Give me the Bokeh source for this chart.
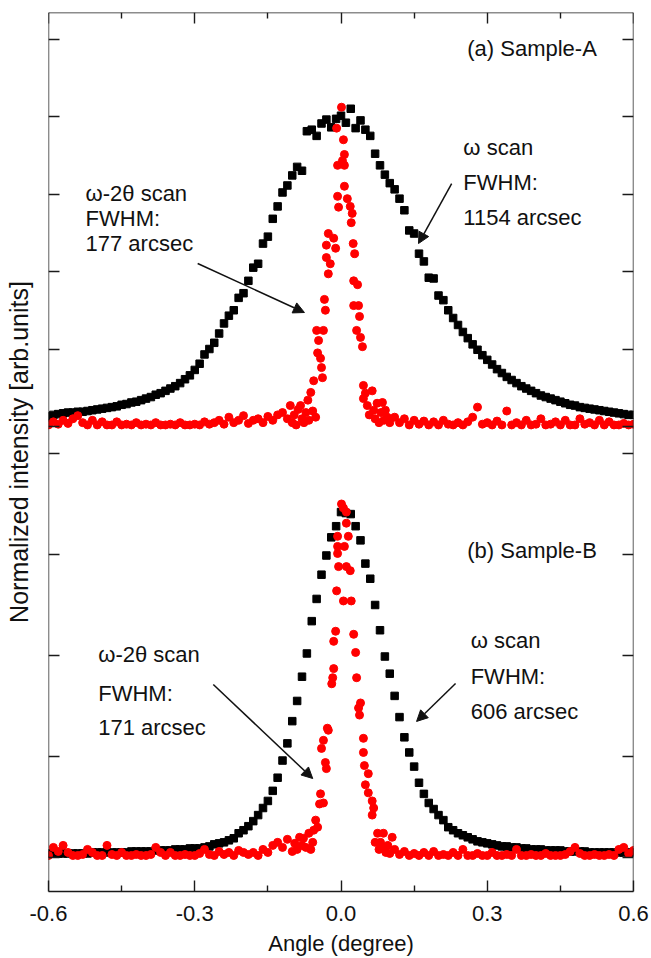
from bokeh.plotting import figure
from bokeh.models import Range1d, LinearAxis, FixedTicker, Label, Arrow, NormalHead
from bokeh.embed import file_html
from bokeh.resources import INLINE

FONT = "Liberation Sans"

# ---------------- data: panel (a) Sample-A ----------------
a_omega_angle = [
    -0.60, -0.59, -0.58, -0.57, -0.56, -0.55, -0.54, -0.53, -0.52, -0.51,
    -0.50, -0.49, -0.48, -0.47, -0.46, -0.45, -0.44, -0.43, -0.42, -0.41,
    -0.40, -0.39, -0.38, -0.37, -0.36, -0.35, -0.34, -0.33, -0.32, -0.31,
    -0.30, -0.29, -0.28, -0.27, -0.26, -0.25, -0.24, -0.23, -0.22, -0.21,
    -0.20, -0.19, -0.18, -0.17, -0.16, -0.15, -0.14, -0.13, -0.12, -0.11,
    -0.10, -0.09, -0.08, -0.07, -0.06, -0.05, -0.04, -0.03, -0.02, -0.01,
    0.00, 0.01, 0.02, 0.03, 0.04, 0.05, 0.06, 0.07, 0.08, 0.09,
    0.10, 0.11, 0.12, 0.13, 0.14, 0.15, 0.16, 0.17, 0.18, 0.19,
    0.20, 0.21, 0.22, 0.23, 0.24, 0.25, 0.26, 0.27, 0.28, 0.29,
    0.30, 0.31, 0.32, 0.33, 0.34, 0.35, 0.36, 0.37, 0.38, 0.39,
    0.40, 0.41, 0.42, 0.43, 0.44, 0.45, 0.46, 0.47, 0.48, 0.49,
    0.50, 0.51, 0.52, 0.53, 0.54, 0.55, 0.56, 0.57, 0.58, 0.59, 0.60]
a_omega_int = [
    0.13, 0.15, 0.16, 0.17, 0.18, 0.18, 0.19, 0.19, 0.20, 0.21,
    0.22, 0.23, 0.24, 0.25, 0.26, 0.28, 0.29, 0.31, 0.32, 0.34,
    0.36, 0.38, 0.41, 0.43, 0.46, 0.49, 0.52, 0.56, 0.61, 0.66,
    0.73, 0.81, 0.93, 1.00, 1.08, 1.20, 1.33, 1.43, 1.50, 1.66,
    1.72, 1.88, 2.05, 2.10, 2.36, 2.45, 2.68, 2.84, 3.02, 3.11,
    3.24, 3.35, 3.30, 3.81, 3.83, 3.75, 3.91, 3.96, 3.86, 3.97,
    4.01, 3.92, 4.10, 3.85, 3.95, 3.83, 3.75, 3.52, 3.37, 3.25,
    3.14, 3.06, 2.94, 2.79, 2.53, 2.49, 2.23, 2.13, 1.92, 1.91,
    1.69, 1.63, 1.50, 1.40, 1.31, 1.22, 1.14, 1.06, 0.99, 0.92,
    0.86, 0.80, 0.74, 0.69, 0.64, 0.60, 0.56, 0.52, 0.49, 0.46,
    0.43, 0.40, 0.38, 0.36, 0.34, 0.32, 0.30, 0.28, 0.27, 0.25,
    0.24, 0.23, 0.22, 0.21, 0.20, 0.19, 0.18, 0.17, 0.16, 0.15, 0.15]

a_w2t_angle = [
    -0.60, -0.59, -0.58, -0.57, -0.56, -0.55, -0.54, -0.53, -0.52, -0.51,
    -0.50, -0.49, -0.48, -0.47, -0.46, -0.45, -0.44, -0.43, -0.42, -0.41,
    -0.40, -0.39, -0.38, -0.37, -0.36, -0.35, -0.34, -0.33, -0.32, -0.31,
    -0.30, -0.29, -0.28, -0.27, -0.26, -0.25, -0.24, -0.23, -0.22, -0.21,
    -0.20, -0.19, -0.18, -0.17, -0.16, -0.15, -0.14, -0.13, -0.12, -0.11,
    -0.104, -0.100, -0.096, -0.092, -0.088, -0.083, -0.080, -0.076, -0.072, -0.068,
    -0.066, -0.062, -0.058, -0.056, -0.052, -0.050, -0.048, -0.046, -0.042, -0.040,
    -0.038, -0.036, -0.034, -0.032, -0.030, -0.030, -0.026, -0.026, -0.022, -0.015,
    -0.011, -0.009, -0.007, -0.007, -0.005, 0.001, 0.003, 0.005, 0.007, 0.007,
    0.007, 0.013, 0.019, 0.021, 0.023, 0.025, 0.026, 0.026, 0.028, 0.032,
    0.034, 0.036, 0.038, 0.040, 0.044, 0.046, 0.046, 0.050, 0.054, 0.058,
    0.064, 0.067, 0.070, 0.074, 0.078, 0.082, 0.085, 0.088, 0.091, 0.095, 0.100,
    0.11, 0.12, 0.13, 0.14, 0.15, 0.16, 0.17, 0.18, 0.19, 0.20,
    0.21, 0.22, 0.23, 0.24, 0.25, 0.26, 0.27, 0.28, 0.29, 0.30,
    0.31, 0.32, 0.33, 0.34, 0.35, 0.36, 0.37, 0.38, 0.39, 0.40,
    0.41, 0.42, 0.43, 0.44, 0.45, 0.46, 0.47, 0.48, 0.49, 0.50,
    0.51, 0.52, 0.53, 0.54, 0.55, 0.56, 0.57, 0.58, 0.59, 0.60]
a_w2t_int = [
    0.02, 0.06, 0.03, 0.08, 0.04, 0.10, 0.14, 0.05, 0.02, 0.08,
    0.02, 0.06, 0.02, 0.02, 0.06, 0.02, 0.03, 0.02, 0.05, 0.02,
    0.03, 0.02, 0.05, 0.02, 0.02, 0.03, 0.02, 0.05, 0.02, 0.02,
    0.03, 0.02, 0.06, 0.03, 0.05, 0.08, 0.03, 0.12, 0.05, 0.08,
    0.14, 0.04, 0.08, 0.10, 0.05, 0.13, 0.08, 0.15, 0.18, 0.10,
    0.27, 0.05, 0.15, 0.02, 0.22, 0.27, 0.10, 0.05, 0.18, 0.34,
    0.08, 0.44, 0.20, 0.59, 0.12, 1.24, 0.95, 1.11, 0.88, 0.76,
    0.63, 1.24, 1.64, 1.50, 2.34, 2.18, 2.49, 1.97, 2.10, 2.43,
    2.30, 3.85, 3.37, 2.97, 2.83, 4.12, 3.43, 3.70, 3.51, 3.37,
    3.10, 2.94, 2.84, 2.63, 2.75, 2.36, 1.88, 1.56, 2.23, 1.24,
    1.83, 1.56, 1.42, 1.15, 1.03, 0.53, 0.36, 0.43, 0.27, 0.15,
    0.46, 0.21, 0.10, 0.30, 0.05, 0.18, 0.31, 0.08, 0.21, 0.12, 0.05,
    0.12, 0.05, 0.10, 0.02, 0.08, 0.03, 0.07, 0.02, 0.06, 0.02,
    0.08, 0.03, 0.02, 0.05, 0.02, 0.06, 0.12, 0.25, 0.03, 0.05,
    0.02, 0.07, 0.02, 0.20, 0.02, 0.05, 0.02, 0.08, 0.02, 0.03,
    0.10, 0.02, 0.03, 0.06, 0.02, 0.08, 0.02, 0.02, 0.10, 0.03,
    0.05, 0.02, 0.08, 0.02, 0.06, 0.02, 0.02, 0.04, 0.02, 0.03]

# ---------------- data: panel (b) Sample-B ----------------
b_omega_angle = list(a_omega_angle)
b_omega_int = [
    0.04, 0.04, 0.04, 0.04, 0.04, 0.04, 0.04, 0.04, 0.04, 0.05,
    0.05, 0.05, 0.05, 0.05, 0.05, 0.05, 0.05, 0.06, 0.06, 0.06,
    0.06, 0.06, 0.07, 0.07, 0.07, 0.07, 0.08, 0.08, 0.08, 0.09,
    0.09, 0.09, 0.10, 0.11, 0.13, 0.14, 0.15, 0.17, 0.19, 0.24,
    0.27, 0.31, 0.36, 0.42, 0.49, 0.56, 0.66, 0.79, 0.96, 1.13,
    1.35, 1.55, 1.79, 2.02, 2.34, 2.56, 2.80, 2.99, 3.17, 3.28,
    3.42, 3.41, 3.40, 3.28, 3.14, 2.91, 2.76, 2.50, 2.25, 1.99,
    1.82, 1.60, 1.39, 1.19, 1.04, 0.90, 0.74, 0.63, 0.54, 0.48,
    0.42, 0.37, 0.30, 0.27, 0.24, 0.22, 0.20, 0.18, 0.16, 0.15,
    0.14, 0.13, 0.12, 0.11, 0.11, 0.10, 0.10, 0.09, 0.09, 0.08,
    0.08, 0.08, 0.07, 0.07, 0.07, 0.07, 0.06, 0.06, 0.06, 0.06,
    0.06, 0.05, 0.05, 0.05, 0.05, 0.05, 0.05, 0.05, 0.05, 0.05, 0.05]

b_w2t_angle = [
    -0.60, -0.59, -0.58, -0.57, -0.56, -0.55, -0.54, -0.53, -0.52, -0.51,
    -0.50, -0.49, -0.48, -0.47, -0.46, -0.45, -0.44, -0.43, -0.42, -0.41,
    -0.40, -0.39, -0.38, -0.37, -0.36, -0.35, -0.34, -0.33, -0.32, -0.31,
    -0.30, -0.29, -0.28, -0.27, -0.26, -0.25, -0.24, -0.23, -0.22, -0.21,
    -0.20, -0.19, -0.18, -0.17, -0.16, -0.15, -0.14, -0.13, -0.12, -0.11,
    -0.100, -0.095, -0.090, -0.085, -0.080, -0.077, -0.072, -0.066, -0.062, -0.058,
    -0.056, -0.052, -0.048, -0.044, -0.042, -0.040, -0.036, -0.036, -0.032, -0.030,
    -0.028, -0.026, -0.019, -0.017, -0.015, -0.015, -0.011, -0.009, -0.007, -0.007,
    -0.007, -0.005, 0.001, 0.005, 0.005, 0.007, 0.011, 0.011, 0.011, 0.015,
    0.019, 0.021, 0.026, 0.030, 0.032, 0.036, 0.038, 0.040, 0.046, 0.046,
    0.048, 0.050, 0.056, 0.056, 0.064, 0.064, 0.067, 0.070, 0.075, 0.078,
    0.081, 0.087, 0.087, 0.092, 0.096, 0.100, 0.105,
    0.11, 0.12, 0.13, 0.14, 0.15, 0.16, 0.17, 0.18, 0.19, 0.20,
    0.21, 0.22, 0.23, 0.24, 0.25, 0.26, 0.27, 0.28, 0.29, 0.30,
    0.31, 0.32, 0.33, 0.34, 0.35, 0.36, 0.37, 0.38, 0.39, 0.40,
    0.41, 0.42, 0.43, 0.44, 0.45, 0.46, 0.47, 0.48, 0.49, 0.50,
    0.51, 0.52, 0.53, 0.54, 0.55, 0.56, 0.57, 0.58, 0.59, 0.60]
b_w2t_int = [
    0.02, 0.10, 0.06, 0.12, 0.05, 0.02, 0.02, 0.03, 0.08, 0.05,
    0.02, 0.02, 0.12, 0.03, 0.02, 0.05, 0.02, 0.02, 0.03, 0.02,
    0.02, 0.03, 0.10, 0.05, 0.02, 0.05, 0.02, 0.02, 0.03, 0.02,
    0.02, 0.04, 0.08, 0.03, 0.02, 0.06, 0.03, 0.05, 0.02, 0.07,
    0.05, 0.03, 0.05, 0.02, 0.08, 0.05, 0.12, 0.15, 0.10, 0.18,
    0.06, 0.14, 0.08, 0.20, 0.12, 0.19, 0.10, 0.24, 0.08, 0.15,
    0.27, 0.37, 0.30, 0.53, 0.63, 1.08, 1.16, 0.54, 0.94, 0.88,
    1.28, 1.26, 1.72, 1.78, 1.87, 2.14, 2.24, 2.64, 3.18, 3.08,
    3.01, 2.88, 3.50, 3.46, 2.54, 3.08, 3.42, 3.31, 2.88, 3.18,
    2.84, 2.54, 2.21, 2.03, 1.78, 1.48, 1.41, 1.53, 1.18, 1.04,
    0.91, 0.72, 0.83, 0.64, 0.56, 0.42, 0.49, 0.15, 0.24, 0.08,
    0.15, 0.24, 0.10, 0.05, 0.12, 0.04, 0.20,
    0.08, 0.03, 0.06, 0.02, 0.04, 0.02, 0.05, 0.02, 0.06, 0.02,
    0.03, 0.02, 0.05, 0.02, 0.08, 0.02, 0.02, 0.04, 0.02, 0.02,
    0.05, 0.02, 0.02, 0.03, 0.02, 0.08, 0.02, 0.02, 0.03, 0.02,
    0.02, 0.04, 0.02, 0.02, 0.02, 0.03, 0.06, 0.10, 0.04, 0.02,
    0.02, 0.03, 0.02, 0.02, 0.03, 0.02, 0.08, 0.10, 0.04, 0.07]

x_major = [-0.6, -0.3, 0.0, 0.3, 0.6]
x_minor = [-0.45, -0.15, 0.15, 0.45]
x_labels = {-0.6: "-0.6", -0.3: "-0.3", 0.0: "0.0", 0.3: "0.3", 0.6: "0.6"}
a_ticks = [0, 1, 2, 3, 4, 5]
b_ticks = [0, 1, 2, 3, 4]

# ---------------- figure ----------------
X0, X1 = -0.6, 0.6
B0, B1 = -0.3366, 8.366     # panel (b) scale over full frame
A0, A1 = -6.0, 5.342        # panel (a) scale over full frame

p = figure(frame_width=585, frame_height=879,
           x_range=Range1d(X0, X1), y_range=Range1d(B0, B1),
           x_axis_location=None, y_axis_location=None,
           toolbar_location=None, output_backend="svg",
           min_border_left=48, min_border_right=18, min_border_top=12, min_border_bottom=0,
           outline_line_color=None, background_fill_color="white")
p.extra_y_ranges = {"a": Range1d(A0, A1)}
p.grid.visible = False

AX_COL = "#1a1a1a"


def style(ax, minor=False):
    ax.axis_line_color = AX_COL
    ax.axis_line_width = 1.4
    ax.major_tick_line_color = AX_COL
    ax.major_tick_line_width = 1.4
    ax.major_tick_in = 11
    ax.major_tick_out = 0
    ax.minor_tick_line_color = AX_COL if minor else None
    ax.minor_tick_line_width = 1.4
    ax.minor_tick_in = 6
    ax.minor_tick_out = 0


def bare(ax):
    ax.major_label_text_font_size = "0px"
    ax.major_label_text_color = None
    ax.major_label_standoff = 0


# left / right axes (panel a ticks and panel b ticks)
for side, loc in (("left", X0), ("right", X1)):
    ax = LinearAxis(y_range_name="a", ticker=FixedTicker(ticks=a_ticks), fixed_location=loc)
    style(ax)
    bare(ax)
    p.add_layout(ax, side)
    bx_ = LinearAxis(ticker=FixedTicker(ticks=b_ticks), fixed_location=loc)
    style(bx_)
    bare(bx_)
    bx_.axis_line_color = None
    p.add_layout(bx_, side)

# y-axis title: an empty axis carrying only the title, centred on the full frame
ty = LinearAxis(ticker=FixedTicker(ticks=[]), axis_label="Normalized intensity [arb.units]")
ty.axis_line_color = None
ty.major_tick_line_color = None
ty.minor_tick_line_color = None
bare(ty)
ty.axis_label_text_font = FONT
ty.axis_label_text_font_size = "25px"
ty.axis_label_text_font_style = "normal"
ty.axis_label_text_color = "#111111"
ty.axis_label_standoff = 16
p.add_layout(ty, "left")

# top axis
tx = LinearAxis(ticker=FixedTicker(ticks=x_major, minor_ticks=x_minor), fixed_location=B1)
style(tx, minor=True)
bare(tx)
p.add_layout(tx, "above")

# bottom axis with labels
bx = LinearAxis(ticker=FixedTicker(ticks=x_major, minor_ticks=x_minor),
                major_label_overrides=x_labels, axis_label="Angle (degree)")
style(bx, minor=True)
bx.major_label_text_font = FONT
bx.major_label_text_font_size = "22px"
bx.major_label_text_color = "#111111"
bx.major_label_standoff = 14
bx.axis_label_text_font = FONT
bx.axis_label_text_font_size = "22px"
bx.axis_label_text_font_style = "normal"
bx.axis_label_text_color = "#111111"
bx.axis_label_standoff = 7
p.add_layout(bx, "below")

# data
p.scatter(a_omega_angle, a_omega_int, marker="square", size=7.5, color="black", y_range_name="a")
p.scatter(a_w2t_angle, a_w2t_int, marker="circle", size=8, color="#ff0000", y_range_name="a")
p.scatter(b_omega_angle, b_omega_int, marker="square", size=7.5, color="black")
p.scatter(b_w2t_angle, b_w2t_int, marker="circle", size=8, color="#ff0000")


def txt(x, y, s, rng="default", size="22px"):
    p.add_layout(Label(x=x, y=y, text=s, y_range_name=rng, text_font=FONT,
                       text_font_size=size, text_color="#111111",
                       text_align="left", text_baseline="middle"))


def arrow(x0, y0, x1, y1, rng="default"):
    p.add_layout(Arrow(end=NormalHead(size=11, fill_color="#111111", line_color="#111111", line_width=1),
                       x_start=x0, y_start=y0, x_end=x1, y_end=y1, y_range_name=rng,
                       line_color="#111111", line_width=1.5))


# panel (a) annotations
txt(0.259, 4.877, "(a) Sample-A", "a")
txt(0.251, 3.600, "\u03c9 scan", "a")
txt(0.251, 3.148, "FWHM:", "a")
txt(0.251, 2.697, "1154 arcsec", "a")
arrow(0.227, 3.135, 0.159, 2.361, "a")
txt(-0.524, 3.006, "\u03c9-2\u03b8 scan", "a")
txt(-0.524, 2.684, "FWHM:", "a")
txt(-0.524, 2.361, "177 arcsec", "a")
arrow(-0.294, 2.103, -0.075, 1.471, "a")

# panel (b) annotations
txt(0.259, 3.040, "(b) Sample-B")
txt(-0.498, 2.010, "\u03c9-2\u03b8 scan")
txt(-0.498, 1.624, "FWHM:")
txt(-0.498, 1.287, "171 arcsec")
arrow(-0.262, 1.713, -0.058, 0.782)
txt(0.266, 2.149, "\u03c9 scan")
txt(0.266, 1.792, "FWHM:")
txt(0.266, 1.446, "606 arcsec")
arrow(0.235, 1.723, 0.155, 1.347)

open("out.html", "w").write(file_html(p, INLINE))
